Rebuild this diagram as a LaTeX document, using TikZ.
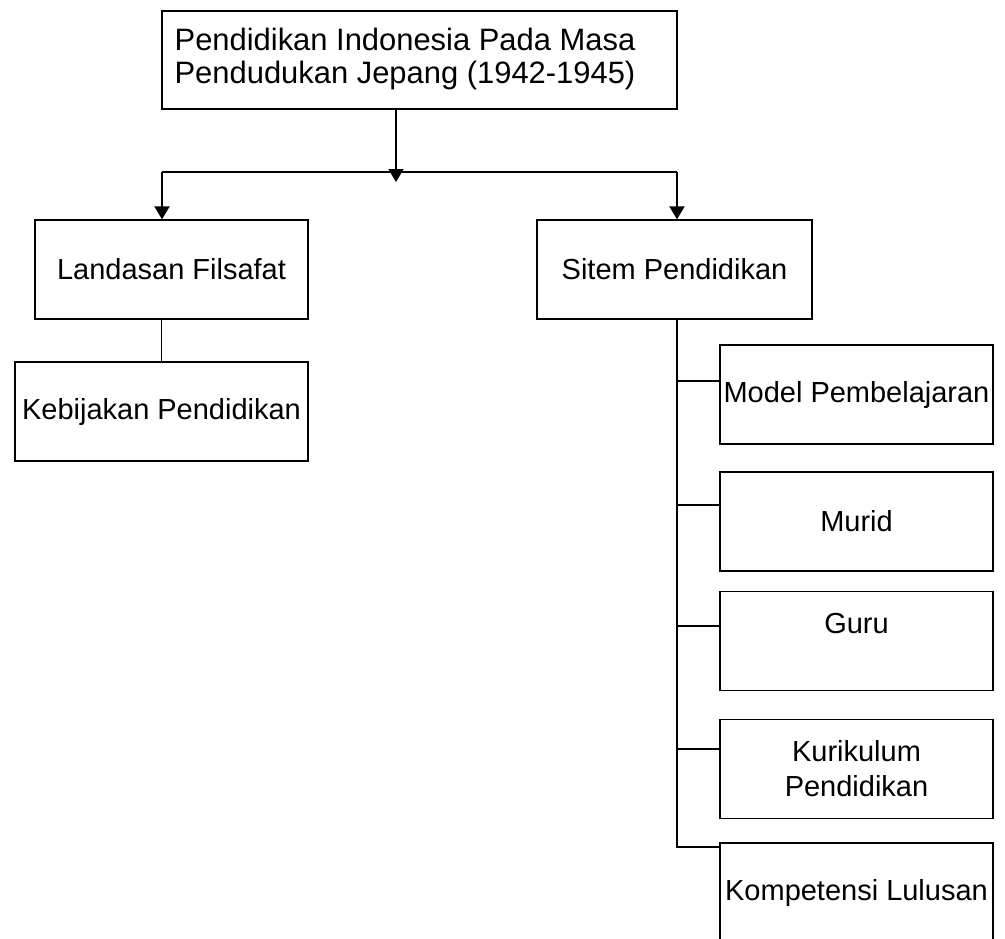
\documentclass[tikz,border=0pt]{standalone}
\usepackage{fontspec}
\setmainfont{Liberation Sans}
\usetikzlibrary{arrows.meta}

\begin{document}
\begin{tikzpicture}[x=0.02cm, y=-0.02cm,
    kotak/.style={draw, line width=0.8pt, inner xsep=1pt, align=center,
      minimum width=#1*0.02cm, minimum height=99*0.02cm,
      font=\fontsize{16.5}{19.8}\selectfont},
    kotak/.default=273,
    garis/.style={line width=0.6pt},
    panah/.style={line width=1.2pt, -{Triangle[length=0.26cm, width=0.3cm]}}]

       \clip (0, 0) rectangle (1005, 938);

       % kotak utama
       \node[kotak=515, minimum height=98*0.02cm] (judul) at (419.5, 60) {};
       \node[align=center, font=\fontsize{17.6}{18.4}\selectfont]
         (judulteks) at (405, 59) {Pendidikan Indonesia Pada Masa\\Pendudukan Jepang (1942-1945)};

       \node[kotak] (landasan) at (171.5, 269.5) {Landasan Filsafat};
       \node[kotak=293] (kebijakan) at (161.5, 411.5) {Kebijakan Pendidikan};
       \node[kotak=275] (sistem) at (674.5, 269.5) {Sitem Pendidikan};

       % cabang sistem pendidikan
       \node[kotak] (model) at (856.5, 394.5) {Model Pembelajaran};
       \node[kotak] (murid) at (856.5, 521.5) {Murid};
       \node[kotak] (guru) at (856.5, 641) {Guru\\\mbox{}};
       \node[kotak] (kurikulum) at (856.5, 769) {Kurikulum\\Pendidikan};
       \node[kotak] (kompetensi) at (856.5, 892.5) {Kompetensi Lulusan};

       \coordinate (cabang) at (396, 172);
       \coordinate (kiri) at (162, 172);
       \coordinate (kanan) at (677, 172);
       \coordinate (ujung) at (677, 847);

       \draw[panah] (judul.south -| cabang) -- ([yshift=-10*0.02cm]cabang);
       \draw[garis] (kiri) -- (kanan);
       \draw[panah] (kiri) -- (kiri |- landasan.north);
       \draw[panah] (kanan) -- (kanan |- sistem.north);

       \draw[line width=1.1pt] (kebijakan.north) -- (kebijakan.north |- landasan.south);

       \draw[garis] (sistem.south -| ujung) -- (ujung) -- (ujung -| kompetensi.west);
       \foreach \n/\dy in {model/13.5, murid/16.5, guru/15, kurikulum/20}
         \draw[garis] ([yshift=\dy*0.02cm]\n.west) -- ++(-43, 0);
     \end{tikzpicture}
\end{document}
